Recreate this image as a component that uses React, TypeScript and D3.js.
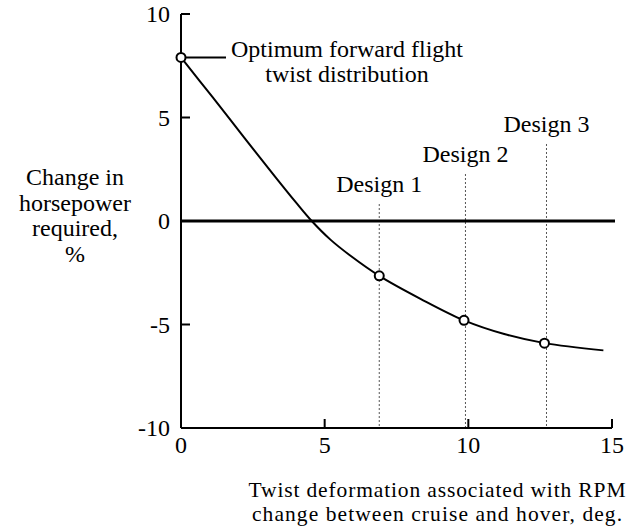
import React from "react";
import * as d3 from "d3";

const curveX = [0, 1.1, 2.2, 3.3, 4.0, 4.55, 5.2, 5.9, 6.9, 8.35, 9.85, 11.25, 12.65, 14.7];
const curveY = [7.9, 5.98, 4.03, 2.1, 0.9, 0, -0.9, -1.68, -2.65, -3.77, -4.8, -5.46, -5.9, -6.25];

const markerX = [0, 6.9, 9.85, 12.65];
const markerY = [7.9, -2.65, -4.8, -5.9];

const designNames = ["Design 1", "Design 2", "Design 3"];
const designX = [6.9, 9.9, 12.72];
const designTop = [0.82, 2.27, 3.72];

const xTicks = [0, 5, 10, 15];
const yTicks = [10, 5, 0, -5, -10];

const yLabelLines = ["Change in", "horsepower", "required,", "%"];
const xLabelLines = ["Twist deformation associated with RPM", "change between cruise and hover, deg."];
const noteLines = ["Optimum forward flight", "twist distribution"];

export default function App() {
  const W = 636, H = 532;
  const x = d3.scaleLinear().domain([0, 15]).range([181, 612]);
  const y = d3.scaleLinear().domain([-10, 10]).range([428, 14]);
  const pts: [number, number][] = curveX.map((v, i) => [v, curveY[i]]);
  const line = d3.line<[number, number]>()
    .x(d => x(d[0]))
    .y(d => y(d[1]))
    .curve(d3.curveCatmullRom.alpha(0.5));
  const font = "Liberation Serif, Times New Roman, Times, DejaVu Serif, serif";
  const fs = 24;
  const xLabelWidths = [377, 370];
  return (
    <svg width={W} height={H} style={{ position: "absolute", left: 0, top: 0, background: "#fff", fontFamily: font, fontSize: fs }}>
      <rect width={W} height={H} fill="#fff" />
      {designX.map((dx, i) => (
        <line key={"d" + i} x1={x(dx)} x2={x(dx)} y1={y(designTop[i])} y2={y(-10)}
          stroke="#555" strokeWidth={1} strokeDasharray="2,2" />
      ))}
      <line x1={x(0)} x2={x(0)} y1={y(10)} y2={y(-10)} stroke="#000" strokeWidth={2} />
      <line x1={x(0)} x2={x(15)} y1={y(-10)} y2={y(-10)} stroke="#000" strokeWidth={2} />
      <line x1={x(0)} x2={x(15) + 3} y1={y(0)} y2={y(0)} stroke="#000" strokeWidth={3} />
      {yTicks.map(t => (
        <line key={"yt" + t} x1={x(0)} x2={x(0) + 9} y1={y(t)} y2={y(t)} stroke="#000" strokeWidth={2} />
      ))}
      {xTicks.map(t => (
        <line key={"xt" + t} x1={x(t)} x2={x(t)} y1={y(-10)} y2={y(-10) - 9} stroke="#000" strokeWidth={2} />
      ))}
      {yTicks.map(t => (
        <text key={"yl" + t} x={x(0) - 11} y={y(t) + 8} textAnchor="end">{t}</text>
      ))}
      {xTicks.map(t => (
        <text key={"xl" + t} x={x(t)} y={y(-10) + 25} textAnchor="middle">{t}</text>
      ))}
      <path d={line(pts) || ""} fill="none" stroke="#000" strokeWidth={2} />
      <line x1={x(0)} x2={226} y1={y(markerY[0])} y2={y(markerY[0])} stroke="#000" strokeWidth={2} />
      {markerX.map((mx, i) => (
        <circle key={"m" + i} cx={x(mx)} cy={y(markerY[i])} r={4.5} fill="#fff" stroke="#000" strokeWidth={2} />
      ))}
      {designNames.map((n, i) => (
        <text key={"dn" + i} x={x(designX[i])} y={y(designTop[i]) - 12} textAnchor="middle">{n}</text>
      ))}
      {noteLines.map((t, i) => (
        <text key={"n" + i} x={347} y={57 + i * 25} textAnchor="middle">{t}</text>
      ))}
      {yLabelLines.map((t, i) => (
        <text key={"yy" + i} x={75} y={185 + i * 25.5} textAnchor="middle">{t}</text>
      ))}
      {xLabelLines.map((t, i) => (
        <text key={"xx" + i} x={437} y={497 + i * 24} textAnchor="middle" fontSize={21.5}
          textLength={xLabelWidths[i]} lengthAdjust="spacing">{t}</text>
      ))}
    </svg>
  );
}
